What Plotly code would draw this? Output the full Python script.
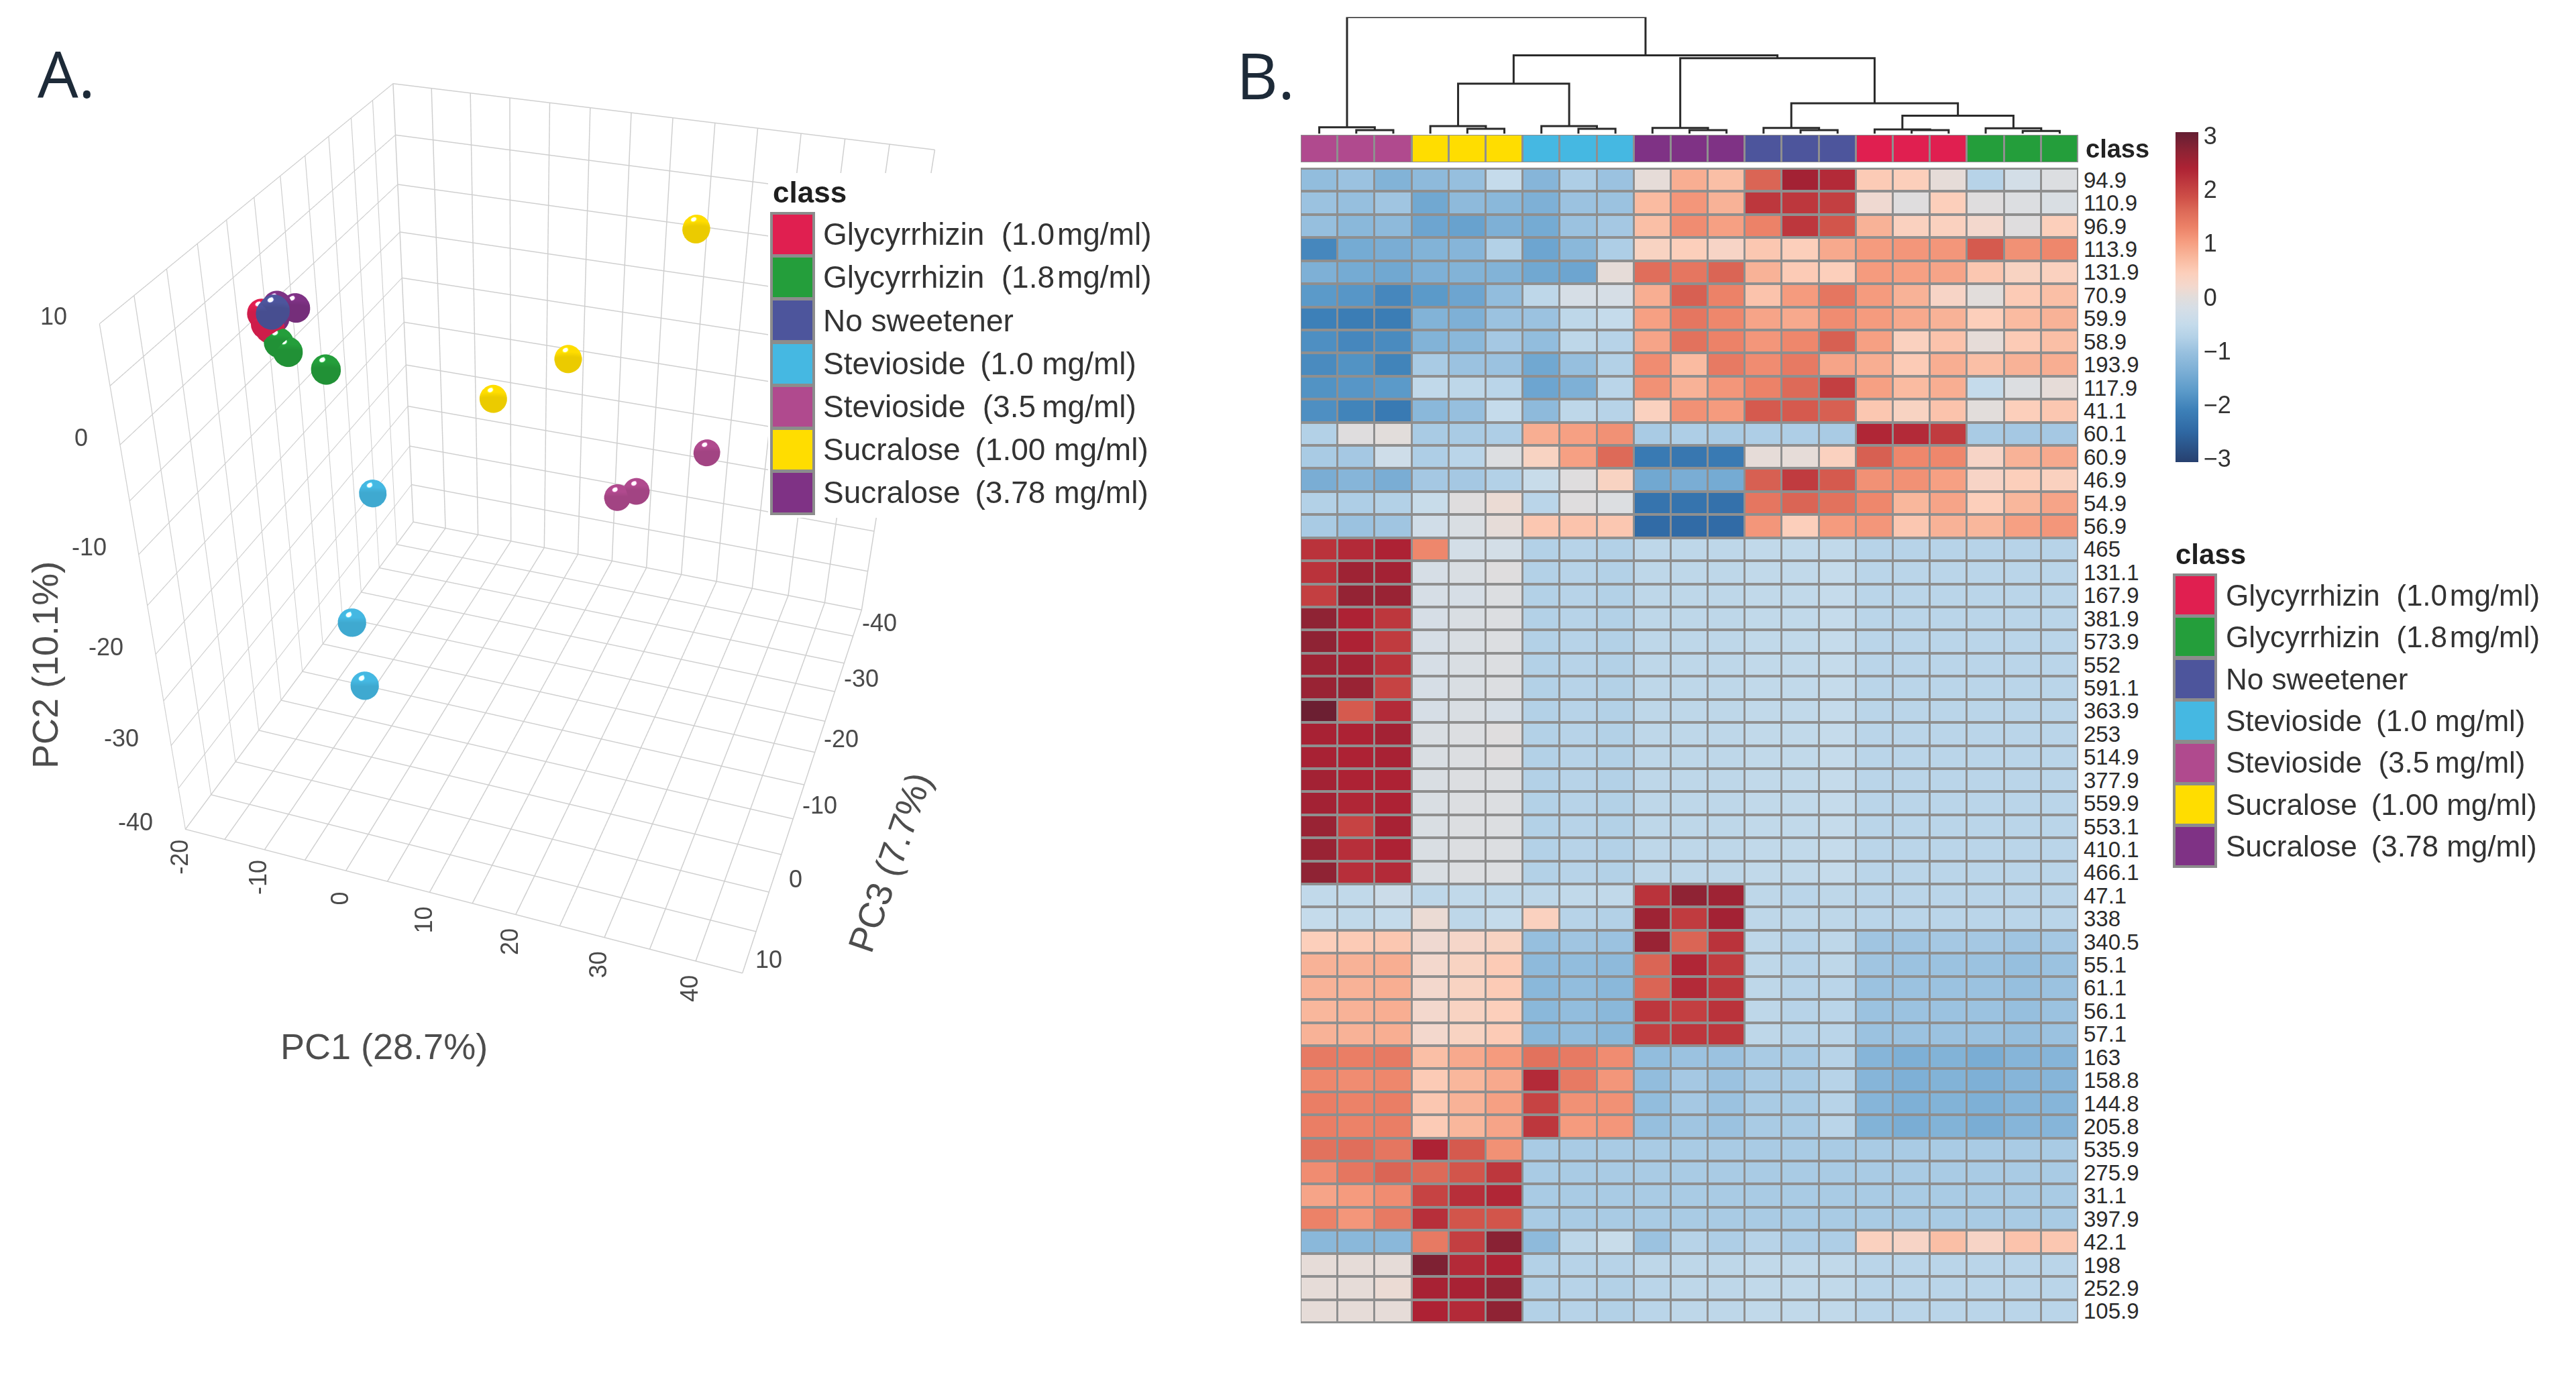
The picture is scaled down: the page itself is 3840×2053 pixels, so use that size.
import numpy as np
import plotly.graph_objects as go

W, H = 3840, 2053
FONT = "Liberation Sans"

# ---------- data ----------
class_names = ["Glycyrrhizin\u00a0\u00a0(1.0\u200amg/ml)", "Glycyrrhizin\u00a0\u00a0(1.8\u200amg/ml)", "No sweetener",
               "Stevioside\u00a0\u2009(1.0 mg/ml)", "Stevioside\u00a0\u00a0(3.5\u2009mg/ml)",
               "Sucralose\u00a0\u2009(1.00 mg/ml)", "Sucralose\u00a0\u2009(3.78 mg/ml)"]
class_colors = ["#e01f50", "#249e3b", "#4d559c", "#45b8e2", "#b04a8e", "#ffdd00", "#7f3285"]

sample_class = [5, 5, 5, 4, 4, 4, 3, 3, 3, 1, 1, 1, 0, 0, 0, 2, 2, 2, 6, 6, 6]
pc1 = [20.5, 9.6, 2.4, 25.5, 18.5, 16.5, -8.5, -5.6, -3.0, -10.8, -14.9, -16.0, -18.2, -17.6, -17.2, -15.7, -15.9, -15.6, -17.8, -18.3, -18.3]
pc2 = [2.4, -7.1, -10.0, -16.9, -19.8, -20.3, -16.9, -23.5, -28.2, -2.7, -1.4, -0.8, 1.2, 0.5, 0.2, 2.5, 2.3, 2.6, -0.7, 0.6, -0.2]
pc3 = [-38.7, -28.1, -23.7, -32.5, -28.1, -27.2, -15.0, -4.0, -1.4, -11.1, -10.7, -10.9, -11.7, -11.3, -11.3, -10.1, -9.9, -10.1, -17.3, -14.7, -14.0]

x_range = [-20, 45]
y_range = [-40, 10]
z_range = [-45, 10]
x_ticks = [-20, -10, 0, 10, 20, 30, 40]
y_ticks = [-40, -30, -20, -10, 0, 10]
z_ticks = [-40, -30, -20, -10, 0, 10]
aspect = [1.0117, 0.9769, 1.0648]

row_labels = ["94.9", "110.9", "96.9", "113.9", "131.9", "70.9", "59.9", "58.9", "193.9", "117.9", "41.1", "60.1", "60.9", "46.9", "54.9", "56.9",
              "465", "131.1", "167.9", "381.9", "573.9", "552", "591.1", "363.9", "253", "514.9", "377.9", "559.9", "553.1", "410.1", "466.1",
              "47.1", "338", "340.5", "55.1", "61.1", "56.1", "57.1",
              "163", "158.8", "144.8", "205.8",
              "535.9", "275.9", "31.1", "397.9", "42.1", "198", "252.9", "105.9"]

column_classes = [4, 4, 4, 5, 5, 5, 3, 3, 3, 6, 6, 6, 2, 2, 2, 0, 0, 0, 1, 1, 1]

heat_values = [
    [-1.1, -1.0, -1.3, -1.15, -1.05, -0.5, -1.25, -0.8, -1.0, 0.05, 0.85, 0.65, 1.65, 2.5, 2.3, 0.5, 0.45, 0.05, -0.7, -0.25, -0.1],
    [-1.0, -1.05, -0.95, -1.5, -1.15, -1.2, -1.35, -1.0, -1.0, 0.7, 1.1, 0.8, 2.15, 2.15, 2.05, 0.15, -0.05, 0.45, -0.05, -0.1, -0.15],
    [-1.05, -1.2, -1.15, -1.55, -1.6, -1.35, -1.45, -1.0, -0.9, 0.65, 1.2, 1.0, 1.3, 2.15, 1.8, 0.8, 0.4, 0.4, 0.2, -0.05, 0.45],
    [-2.0, -1.45, -1.4, -1.3, -1.25, -0.75, -1.55, -1.2, -0.8, 0.35, 0.45, 0.3, 0.55, 0.45, 0.9, 1.05, 1.1, 1.1, 1.75, 1.15, 1.25],
    [-1.35, -1.45, -1.5, -1.35, -1.3, -1.3, -1.5, -1.55, 0.05, 1.55, 1.45, 1.65, 0.8, 0.5, 0.45, 1.05, 1.0, 0.95, 0.55, 0.35, 0.4],
    [-1.75, -1.8, -2.0, -1.75, -1.55, -1.1, -0.6, -0.2, -0.2, 0.85, 1.7, 1.3, 0.6, 1.05, 1.45, 1.05, 0.8, 0.3, 0.0, 0.5, 0.65],
    [-2.1, -2.15, -2.15, -1.3, -1.35, -1.0, -1.0, -0.6, -0.5, 1.0, 1.45, 1.25, 0.95, 0.9, 1.2, 1.05, 0.9, 0.8, 0.45, 0.7, 0.8],
    [-1.9, -2.0, -1.95, -1.3, -1.2, -0.9, -1.1, -0.6, -0.7, 0.95, 1.5, 1.3, 1.1, 1.25, 1.7, 1.0, 0.4, 0.6, 0.05, 0.5, 0.65],
    [-1.95, -1.85, -2.05, -0.85, -1.0, -1.0, -1.5, -1.05, -0.75, 1.2, 0.7, 1.4, 1.2, 1.4, 0.95, 0.85, 0.5, 0.85, 0.65, 0.8, 0.85],
    [-1.85, -1.8, -1.75, -0.55, -0.6, -0.65, -1.55, -1.35, -0.65, 1.15, 0.8, 1.1, 1.3, 1.6, 2.05, 1.0, 0.7, 0.85, -0.5, -0.1, 0.05],
    [-1.9, -2.05, -2.2, -1.2, -1.05, -0.5, -1.15, -0.6, -0.7, 0.4, 1.15, 1.05, 1.75, 1.75, 1.7, 0.55, 0.35, 0.6, 0.0, 0.45, 0.55],
    [-0.75, -0.05, 0.0, -0.85, -0.85, -0.8, 0.85, 1.0, 1.15, -0.85, -0.8, -0.85, -0.8, -0.8, -0.85, 2.35, 2.3, 2.1, -0.85, -0.9, -0.9],
    [-0.85, -0.9, -0.35, -0.8, -0.65, -0.1, 0.35, 1.0, 1.6, -2.2, -2.25, -2.2, 0.05, 0.05, 0.4, 1.7, 1.25, 1.25, 0.3, 0.8, 0.9],
    [-1.4, -1.25, -1.4, -0.9, -0.9, -0.75, -0.45, -0.05, 0.35, -1.5, -1.4, -1.45, 1.7, 2.1, 1.75, 1.15, 1.15, 1.0, 0.3, 0.45, 0.4],
    [-0.75, -0.8, -0.75, -0.45, -0.05, 0.1, -0.65, -0.05, -0.1, -2.3, -2.3, -2.35, 1.45, 1.65, 1.5, 1.25, 0.75, 0.95, 0.45, 0.75, 0.95],
    [-0.85, -1.0, -0.95, -0.3, -0.15, 0.05, 0.55, 0.6, 0.55, -2.45, -2.45, -2.45, 1.1, 0.45, 1.05, 1.1, 0.55, 0.8, 0.75, 1.0, 1.1],
    [2.2, 2.3, 2.4, 1.25, -0.25, -0.25, -0.75, -0.7, -0.75, -0.6, -0.6, -0.6, -0.55, -0.55, -0.55, -0.7, -0.7, -0.7, -0.7, -0.7, -0.7],
    [2.2, 2.55, 2.5, -0.2, -0.15, -0.05, -0.75, -0.7, -0.75, -0.6, -0.6, -0.6, -0.55, -0.55, -0.5, -0.65, -0.65, -0.65, -0.65, -0.65, -0.65],
    [2.05, 2.65, 2.6, -0.2, -0.2, -0.1, -0.75, -0.7, -0.75, -0.6, -0.6, -0.6, -0.55, -0.55, -0.5, -0.65, -0.65, -0.65, -0.65, -0.65, -0.65],
    [2.7, 2.4, 2.15, -0.2, -0.15, -0.1, -0.75, -0.7, -0.75, -0.6, -0.6, -0.6, -0.55, -0.55, -0.5, -0.65, -0.65, -0.65, -0.65, -0.65, -0.65],
    [2.7, 2.4, 2.1, -0.2, -0.15, -0.1, -0.75, -0.7, -0.75, -0.6, -0.6, -0.6, -0.55, -0.55, -0.5, -0.65, -0.65, -0.65, -0.65, -0.65, -0.65],
    [2.55, 2.5, 2.2, -0.2, -0.15, -0.1, -0.75, -0.7, -0.75, -0.6, -0.6, -0.6, -0.55, -0.55, -0.5, -0.65, -0.65, -0.65, -0.65, -0.65, -0.65],
    [2.6, 2.6, 2.0, -0.2, -0.15, -0.1, -0.75, -0.7, -0.75, -0.6, -0.6, -0.6, -0.55, -0.55, -0.5, -0.65, -0.65, -0.65, -0.65, -0.65, -0.65],
    [3.0, 1.75, 2.3, -0.2, -0.15, -0.2, -0.75, -0.7, -0.75, -0.6, -0.6, -0.6, -0.55, -0.55, -0.5, -0.65, -0.65, -0.65, -0.65, -0.65, -0.65],
    [2.45, 2.4, 2.5, -0.15, -0.1, -0.05, -0.75, -0.7, -0.75, -0.6, -0.6, -0.6, -0.55, -0.55, -0.5, -0.65, -0.65, -0.65, -0.65, -0.65, -0.65],
    [2.45, 2.4, 2.45, -0.15, -0.1, -0.05, -0.75, -0.7, -0.75, -0.6, -0.6, -0.6, -0.55, -0.55, -0.5, -0.65, -0.65, -0.65, -0.65, -0.65, -0.65],
    [2.5, 2.4, 2.4, -0.15, -0.1, -0.1, -0.75, -0.7, -0.75, -0.6, -0.6, -0.6, -0.55, -0.55, -0.5, -0.65, -0.65, -0.65, -0.65, -0.65, -0.65],
    [2.5, 2.35, 2.4, -0.15, -0.1, -0.1, -0.75, -0.7, -0.75, -0.6, -0.6, -0.6, -0.55, -0.55, -0.5, -0.65, -0.65, -0.65, -0.65, -0.65, -0.65],
    [2.6, 2.0, 2.45, -0.15, -0.1, -0.1, -0.75, -0.7, -0.75, -0.6, -0.6, -0.6, -0.55, -0.55, -0.5, -0.65, -0.65, -0.65, -0.65, -0.65, -0.65],
    [2.6, 2.25, 2.4, -0.15, -0.1, -0.1, -0.75, -0.7, -0.75, -0.6, -0.6, -0.6, -0.55, -0.55, -0.5, -0.65, -0.65, -0.65, -0.65, -0.65, -0.65],
    [2.7, 2.25, 2.3, -0.15, -0.1, -0.1, -0.75, -0.7, -0.75, -0.6, -0.6, -0.6, -0.55, -0.55, -0.5, -0.65, -0.65, -0.65, -0.65, -0.65, -0.65],
    [-0.55, -0.55, -0.4, -0.6, -0.55, -0.55, -0.6, -0.55, -0.55, 2.2, 2.7, 2.55, -0.6, -0.65, -0.6, -0.65, -0.65, -0.65, -0.65, -0.65, -0.65],
    [-0.5, -0.55, -0.5, 0.1, -0.6, -0.5, 0.4, -0.7, -0.75, 2.55, 2.1, 2.5, -0.6, -0.6, -0.6, -0.65, -0.65, -0.65, -0.65, -0.65, -0.65],
    [0.45, 0.5, 0.55, 0.15, 0.25, 0.35, -1.05, -0.95, -1.0, 2.6, 1.65, 2.2, -0.6, -0.7, -0.6, -0.95, -0.95, -0.9, -0.9, -0.95, -0.9],
    [0.8, 0.8, 0.85, 0.2, 0.35, 0.5, -1.15, -1.1, -1.15, 1.65, 2.35, 2.1, -0.6, -0.7, -0.6, -0.95, -1.0, -1.0, -1.0, -1.05, -1.0],
    [0.8, 0.8, 0.85, 0.2, 0.35, 0.5, -1.2, -1.1, -1.2, 1.65, 2.3, 2.15, -0.6, -0.7, -0.65, -1.0, -1.0, -1.0, -1.0, -1.05, -1.0],
    [0.75, 0.8, 0.85, 0.2, 0.35, 0.45, -1.2, -1.1, -1.2, 2.15, 2.05, 2.2, -0.6, -0.7, -0.65, -1.0, -1.0, -1.0, -1.0, -1.05, -1.0],
    [0.8, 0.8, 0.85, 0.2, 0.35, 0.5, -1.2, -1.1, -1.2, 2.05, 2.15, 2.15, -0.6, -0.7, -0.65, -1.0, -1.0, -1.0, -1.0, -1.05, -1.0],
    [1.4, 1.35, 1.4, 0.65, 0.9, 1.05, 1.5, 1.4, 1.2, -1.1, -1.0, -1.0, -0.85, -0.85, -0.7, -1.25, -1.35, -1.3, -1.4, -1.25, -1.25],
    [1.25, 1.2, 1.25, 0.5, 0.75, 0.9, 2.3, 1.4, 1.1, -1.1, -0.9, -1.0, -0.85, -0.85, -0.7, -1.25, -1.35, -1.3, -1.35, -1.25, -1.25],
    [1.35, 1.3, 1.35, 0.55, 0.8, 1.0, 2.0, 1.15, 1.15, -1.1, -0.9, -1.0, -0.85, -0.85, -0.7, -1.25, -1.35, -1.3, -1.35, -1.25, -1.25],
    [1.35, 1.3, 1.35, 0.5, 0.75, 0.95, 2.15, 1.05, 1.1, -1.05, -0.95, -1.0, -0.85, -0.85, -0.65, -1.3, -1.4, -1.3, -1.4, -1.25, -1.25],
    [1.5, 1.55, 1.45, 2.4, 1.75, 1.15, -0.85, -0.85, -0.85, -0.85, -0.85, -0.85, -0.85, -0.85, -0.85, -0.85, -0.85, -0.85, -0.85, -0.85, -0.85],
    [1.2, 1.45, 1.65, 1.6, 1.8, 2.15, -0.85, -0.85, -0.85, -0.85, -0.85, -0.85, -0.85, -0.85, -0.85, -0.85, -0.85, -0.85, -0.85, -0.85, -0.85],
    [0.95, 1.05, 1.2, 2.0, 2.25, 2.35, -0.85, -0.85, -0.85, -0.85, -0.85, -0.85, -0.85, -0.85, -0.85, -0.85, -0.85, -0.85, -0.85, -0.85, -0.85],
    [1.3, 1.1, 1.4, 2.25, 1.8, 1.8, -0.85, -0.85, -0.85, -0.85, -0.85, -0.85, -0.85, -0.85, -0.85, -0.85, -0.85, -0.85, -0.85, -0.85, -0.85],
    [-1.2, -1.2, -1.2, 1.4, 2.05, 2.75, -1.15, -0.6, -0.45, -1.0, -0.7, -0.8, -0.7, -0.8, -0.8, 0.4, 0.3, 0.65, 0.3, 0.6, 0.55],
    [0.05, 0.05, 0.05, 2.85, 2.3, 2.4, -0.75, -0.7, -0.7, -0.6, -0.6, -0.6, -0.55, -0.55, -0.55, -0.65, -0.65, -0.65, -0.65, -0.65, -0.65],
    [0.05, 0.05, 0.1, 2.45, 2.45, 2.65, -0.75, -0.7, -0.75, -0.65, -0.6, -0.6, -0.55, -0.55, -0.55, -0.65, -0.65, -0.65, -0.65, -0.65, -0.65],
    [0.05, 0.05, 0.05, 2.4, 2.3, 2.7, -0.75, -0.7, -0.75, -0.65, -0.6, -0.6, -0.55, -0.55, -0.55, -0.65, -0.65, -0.65, -0.65, -0.65, -0.65],
]

# dendrogram merges: left node, right node, height (leaves 0-20, internal nodes 21+)
dendro_left = [1, 0, 4, 3, 7, 6, 24, 10, 9, 13, 12, 16, 15, 19, 18, 33, 31, 29, 27, 22]
dendro_right = [2, 21, 5, 23, 8, 25, 26, 11, 28, 14, 30, 17, 32, 20, 34, 35, 36, 37, 38, 39]
dendro_height = [10, 18, 14, 21, 14, 21, 138, 10, 16, 10, 16, 10, 12, 8, 15, 50, 84, 208, 216, 321]

color_stop_values = [-3.07, -2.5, -2.1, -1.75, -1.35, -1.05, -0.75, -0.5, -0.2, 0, 0.2, 0.45, 0.75, 1.05, 1.3, 1.6, 1.85, 2.1, 2.4, 2.7, 3.07]
color_stop_colors = ["#27406f", "#2f68a3", "#3d80b8", "#5b9ac9", "#7eb0d6", "#96bfde", "#b3d1e7", "#c5dbeb", "#d6dee6", "#e2dddb", "#f3d8cd",
                     "#fccfbb", "#f9b79c", "#f59b7e", "#ec8268", "#dd6a58", "#cf5048", "#c03b3f", "#ad2234", "#8f2334", "#641e32"]
colorbar_ticks = [-3, -2, -1, 0, 1, 2, 3]

# ---------- helpers ----------
def xp(px): return px / W
def yp(py): return 1 - py / H

annotations = []
def label(text, x, y, size, color="#333333", xanchor="left", yanchor="middle", angle=0, bold=False, family=FONT):
    annotations.append(dict(text=f"<b>{text}</b>" if bold else text, x=xp(x), y=yp(y), xref="paper", yref="paper",
                            showarrow=False, xanchor=xanchor, yanchor=yanchor, textangle=angle,
                            font=dict(size=size, color=color, family=family), borderpad=0))

def box(x0, y0, x1, y1, fill, border=None, bw=0):
    annotations.append(dict(text="\u00a0", x=xp(x0), y=yp(y0), xref="paper", yref="paper", showarrow=False,
                            xanchor="left", yanchor="top", width=x1 - x0 - 2 * bw, height=y1 - y0 - 2 * bw,
                            bgcolor=fill, bordercolor=border or fill, borderwidth=bw, borderpad=0,
                            font=dict(size=10, color=fill)))

def legend(x0, title_y, y0, pitch, sw, text_x, size, title_size):
    label("class", x0 + 3, title_y, title_size, color="#1f1f1f", bold=True)
    for n, (name, col) in enumerate(zip(class_names, class_colors)):
        box(x0, y0 + n * pitch, x0 + sw, y0 + n * pitch + pitch + 3, col, "#8c8c8c", 4)
    for n, name in enumerate(class_names):
        label(name, text_x, y0 + (n + 0.5) * pitch + 1, size)

fig = go.Figure()

# ---------- panel A: 3D PCA ----------
sphere_px = 21.0
cube_scale = 846.0
def sphere_mesh(ids):
    u = np.linspace(0, np.pi, 14)
    v = np.linspace(0, 2 * np.pi, 22, endpoint=False)
    vx, vy, vz, fi, fj, fk = [], [], [], [], [], []
    rn = sphere_px / cube_scale
    for s in ids:
        base = len(vx)
        for a in u:
            for b in v:
                vx.append(pc1[s] + rn * (x_range[1] - x_range[0]) / aspect[0] * np.sin(a) * np.cos(b))
                vy.append(pc2[s] + rn * (y_range[1] - y_range[0]) / aspect[1] * np.cos(a))
                vz.append(pc3[s] + rn * (z_range[1] - z_range[0]) / aspect[2] * np.sin(a) * np.sin(b))
        nu, nv = len(u), len(v)
        for p in range(nu - 1):
            for q in range(nv):
                a0 = base + p * nv + q
                a1 = base + p * nv + (q + 1) % nv
                b0 = base + (p + 1) * nv + q
                b1 = base + (p + 1) * nv + (q + 1) % nv
                fi += [a0, a1]; fj += [b0, b0]; fk += [a1, b1]
    return vx, vy, vz, fi, fj, fk

for c, (name, col) in enumerate(zip(class_names, class_colors)):
    ids = [i for i, k in enumerate(sample_class) if k == c]
    fig.add_trace(go.Scatter3d(x=[pc1[i] for i in ids], y=[pc2[i] for i in ids], z=[pc3[i] for i in ids],
                               mode="markers", name=name, showlegend=False, hoverinfo="skip",
                               marker=dict(size=14, color=col, opacity=1, line=dict(width=0))))
    vx, vy, vz, fi, fj, fk = sphere_mesh(ids)
    fig.add_trace(go.Mesh3d(x=vx, y=vy, z=vz, i=fi, j=fj, k=fk, color=col, flatshading=False, showscale=False, hoverinfo="skip",
                            lighting=dict(ambient=0.92, diffuse=0.22, specular=1.0, roughness=0.1, fresnel=0.1),
                            lightposition=dict(x=0, y=10000, z=0)))

axis3d = dict(showbackground=False, showgrid=True, gridcolor="#cfcfcf", gridwidth=3, zeroline=False, showline=False,
              showticklabels=False, ticks="", title=dict(text=""), showspikes=False, dtick=5, tick0=0, autorange=False)

tick_color = "#4a4a4a"
scene_ann = []
for v in x_ticks:
    scene_ann.append(dict(x=v, y=y_range[0], z=z_range[1], text=str(v), showarrow=False, textangle=-90, xshift=-9, yshift=-41,
                          font=dict(size=36, color=tick_color, family=FONT)))
for v in y_ticks:
    scene_ann.append(dict(x=x_range[0], y=v, z=z_range[1], text=str(v), showarrow=False, xanchor="right", xshift=-46, yshift=11,
                          font=dict(size=36, color=tick_color, family=FONT)))
for v in z_ticks:
    scene_ann.append(dict(x=x_range[1], y=y_range[0], z=v, text=str(v), showarrow=False, xshift=40, yshift=20,
                          font=dict(size=36, color=tick_color, family=FONT)))

scene = dict(domain=dict(x=[0, 1540.56 / W], y=[0, 1]),
             bgcolor="rgba(0,0,0,0)",
             aspectmode="manual", aspectratio=dict(x=aspect[0], y=aspect[1], z=aspect[2]),
             xaxis=dict(axis3d, range=x_range), yaxis=dict(axis3d, range=y_range), zaxis=dict(axis3d, range=z_range),
             camera=dict(up=dict(x=0, y=1, z=0), eye=dict(x=0.7692, y=1.5454, z=2.3676),
                         center=dict(x=-0.0059, y=-0.3, z=0.1804), projection=dict(type="perspective")),
             annotations=scene_ann)

# ---------- panel B: heatmap ----------
hx0, hx1 = 1939, 3098
hy0, hy1 = 251, 1972
by0, by1 = 202, 241
dy0, dy1 = 25.5, 199.5

stops = [[(v - color_stop_values[0]) / (color_stop_values[-1] - color_stop_values[0]), c]
         for v, c in zip(color_stop_values, color_stop_colors)]

columns = list(range(21))
fig.add_trace(go.Heatmap(z=heat_values, x=columns, y=row_labels, coloraxis="coloraxis", xgap=3, ygap=4,
                         xaxis="x", yaxis="y", hoverinfo="skip"))

n_cls = len(class_colors)
cls_scale = []
for i, c in enumerate(class_colors):
    cls_scale += [[i / n_cls, c], [(i + 1) / n_cls, c]]
fig.add_trace(go.Heatmap(z=[column_classes], x=columns, y=["class"], colorscale=cls_scale, zmin=-0.5, zmax=n_cls - 0.5,
                         showscale=False, xgap=3, ygap=0, xaxis="x2", yaxis="y2", hoverinfo="skip"))

node_x = {i: float(i) for i in range(21)}
node_h = {i: 0.0 for i in range(21)}
dx, dy = [], []
for n, (l, r, h) in enumerate(zip(dendro_left, dendro_right, dendro_height)):
    dx += [node_x[l], node_x[l], node_x[r], node_x[r], None]
    dy += [node_h[l], h, h, node_h[r], None]
    node_x[21 + n] = (node_x[l] + node_x[r]) / 2
    node_h[21 + n] = h
fig.add_trace(go.Scatter(x=dx, y=dy, mode="lines", line=dict(color="#2a2a2a", width=3), cliponaxis=False,
                         showlegend=False, hoverinfo="skip", xaxis="x3", yaxis="y3"))

hide = dict(visible=False, range=[-0.5, 20.5], fixedrange=True)
shapes = [dict(type="rect", xref="paper", yref="paper", layer="below", x0=xp(hx0), x1=xp(hx1), y0=yp(hy1 + 1), y1=yp(hy0 - 1),
               fillcolor="#8f8f8f", line=dict(width=0)),
          dict(type="rect", xref="paper", yref="paper", layer="below", x0=xp(hx0), x1=xp(hx1), y0=yp(by1 + 1), y1=yp(by0 - 1),
               fillcolor="#8f8f8f", line=dict(width=0))]

# ---------- texts, legends ----------
label("A.", 55, 108, 96, color="#1d2a38", family="Open Sans")
label("B.", 1842, 110, 96, color="#1d2a38", family="Open Sans")
label("PC1 (28.7%)", 572, 1560, 54, color="#4d4d4d", xanchor="center")
label("PC2 (10.1%)", 67, 992, 54, color="#4d4d4d", xanchor="center", angle=-90)
label("PC3 (7.7%)", 1326, 1286, 54, color="#4d4d4d", xanchor="center", angle=-71)
label("class", 3108, 222, 38, color="#222222", bold=True)

box(1145, 258, 1735, 772, "#ffffff")
legend(1148, 286, 316, 64.2, 67, 1226, 46, 44)
legend(3239, 826, 855, 62.4, 66, 3317, 44, 42)

fig.update_layout(
    width=W, height=H, margin=dict(l=0, r=0, t=0, b=0), autosize=False,
    paper_bgcolor="white", plot_bgcolor="white", showlegend=False,
    font=dict(family=FONT),
    scene=scene,
    xaxis=dict(hide, domain=[xp(hx0), xp(hx1)], anchor="y"),
    yaxis=dict(domain=[yp(hy1), yp(hy0)], anchor="x", side="right", type="category", categoryorder="array",
               categoryarray=row_labels, autorange="reversed", showgrid=False, zeroline=False, showline=False, ticks="",
               tickmode="array", tickvals=row_labels, ticktext=row_labels,
               tickfont=dict(size=33, color="#2b2b2b", family=FONT), ticklabelstandoff=7, fixedrange=True, automargin=False),
    xaxis2=dict(hide, domain=[xp(hx0), xp(hx1)], anchor="y2"),
    yaxis2=dict(visible=False, domain=[yp(by1), yp(by0)], anchor="x2", fixedrange=True),
    xaxis3=dict(hide, domain=[xp(hx0), xp(hx1)], anchor="y3"),
    yaxis3=dict(visible=False, domain=[yp(dy1), yp(dy0)], anchor="x3", range=[0, 321], fixedrange=True),
    coloraxis=dict(colorscale=stops, cmin=color_stop_values[0], cmax=color_stop_values[-1],
                   colorbar=dict(x=xp(3243), xanchor="left", y=yp(197), yanchor="top", thickness=34, thicknessmode="pixels",
                                 len=492, lenmode="pixels", xpad=0, ypad=0, outlinewidth=0, ticks="", tickmode="array",
                                 tickvals=colorbar_ticks, ticklabelposition="outside",
                                 tickfont=dict(size=36, color="#333333", family=FONT))),
    shapes=shapes, annotations=annotations,
)

fig.write_html("out.html", config=dict(displayModeBar=False), post_script="document.body.style.margin='0';")
